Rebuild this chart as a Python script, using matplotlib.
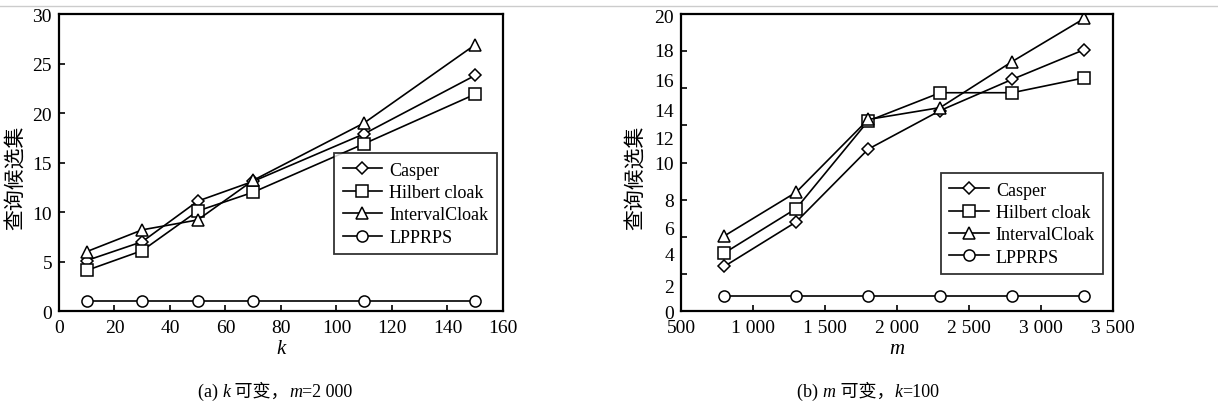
import numpy as np
import matplotlib
matplotlib.use("Agg")
import matplotlib.pyplot as plt

plt.rcParams['font.family'] = ['Liberation Serif', 'Noto Sans CJK SC']

# ---- data -----------------------------------------------------------
series = ["Casper", "Hilbert cloak", "IntervalCloak", "LPPRPS"]
markers = ["D", "s", "^", "o"]

k_vals = [10, 30, 50, 70, 110, 150]
k_casper = [5.1, 7.0, 11.1, 13.1, 17.9, 23.8]
k_hilbert = [4.1, 6.1, 10.1, 12.0, 16.9, 21.9]
k_interval = [6.0, 8.2, 9.2, 13.2, 19.0, 26.9]
k_lpprps = [1, 1, 1, 1, 1, 1]

m_vals = [800, 1300, 1800, 2300, 2800, 3300]
m_casper = [3.0, 6.0, 10.9, 13.5, 15.6, 17.6]
m_hilbert = [3.9, 6.9, 12.8, 14.7, 14.7, 15.7]
m_interval = [5.05, 8.0, 12.9, 13.7, 16.8, 19.7]
m_lpprps = [1, 1, 1, 1, 1, 1]

# the right panel's y labels sit off the tick marks in the original
m_ylabels = ["0", "2", "4", "6", "8", "10", "12", "14", "16", "18", "20"]
m_ylabel_pos = [0, 1.7, 3.9, 5.6, 7.5, 10, 11.7, 13.6, 15.6, 17.6, 19.9]
m_xlabels = ["500", "1 000", "1 500", "2 000", "2 500", "3 000", "3 500"]

# captions as (text, italic) pieces
cap_a = [("(a) ", False), ("k", True), (" 可变，", False), ("m", True), ("=2 000", False)]
cap_b = [("(b) ", False), ("m", True), (" 可变，", False), ("k", True), ("=100", False)]

fig = plt.figure(figsize=(12.18, 4.06), dpi=100)
ax1 = fig.add_axes([0.0484, 0.2315, 0.3645, 0.7315])
ax2 = fig.add_axes([0.5591, 0.2315, 0.3547, 0.7315])


def draw(ax, x, ys):
    for y, name, mk in zip(ys, series, markers):
        ms = 6.5 if mk == "D" else 8
        ax.plot(x, y, color="black", lw=1.2, marker=mk, ms=ms,
                mfc="white", mec="black", mew=1.1, label=name)
    for s in ax.spines.values():
        s.set_linewidth(1.6)
    ax.tick_params(which="both", direction="in", length=4, width=1.2,
                   labelsize=14, top=False, right=False)
    ax.tick_params(axis="x", pad=6)
    ax.tick_params(axis="y", pad=5)


def legend(ax, anchor):
    lg = ax.legend(loc="lower right", bbox_to_anchor=anchor, fontsize=13,
                   frameon=True, fancybox=False, edgecolor="black",
                   handlelength=2.2, borderaxespad=0, labelspacing=0.3,
                   handletextpad=0.4, borderpad=0.45)
    lg.get_frame().set_linewidth(1.3)


draw(ax1, k_vals, [k_casper, k_hilbert, k_interval, k_lpprps])
ax1.set_xlim(0, 160)
ax1.set_ylim(0, 30)
ax1.set_xticks(range(0, 161, 20))
ax1.set_yticks(range(0, 31, 5))
ax1.set_xlabel("k", fontsize=15, fontstyle="italic", labelpad=2)
ax1.set_ylabel("查询候选集", fontsize=15)
ax1.yaxis.set_label_coords(-0.072, 0.451)
legend(ax1, (0.986, 0.192))

draw(ax2, m_vals, [m_casper, m_hilbert, m_interval, m_lpprps])
ax2.set_xlim(500, 3500)
ax2.set_ylim(0, 20)
ax2.set_xticks(range(500, 3501, 500))
ax2.set_xticklabels(m_xlabels)
ax2.yaxis.remove_overlapping_locs = False
ax2.set_yticks(np.arange(0, 20.1, 2.5))
ax2.set_yticklabels([])
ax2.set_yticks(m_ylabel_pos, minor=True)
ax2.set_yticklabels(m_ylabels, minor=True)
ax2.tick_params(axis="y", which="minor", length=0, pad=5)
ax2.set_xlabel("m", fontsize=15, fontstyle="italic", labelpad=2)
ax2.set_ylabel("查询候选集", fontsize=15)
ax2.yaxis.set_label_coords(-0.079, 0.451)
legend(ax2, (0.977, 0.125))

# captions, piece by piece so k/m can be italic next to Chinese text
renderer = fig.canvas.get_renderer()
for pieces, cx in [(cap_a, 275), (cap_b, 868)]:
    arts = []
    x = 0
    for txt, it in pieces:
        t = fig.text(x, 1 - 397 / 406, txt, fontsize=13, va="baseline",
                     ha="left", fontstyle="italic" if it else "normal",
                     transform=None)
        x += t.get_window_extent(renderer).width
        arts.append(t)
    pos = cx - x / 2
    for t in arts:
        w = t.get_window_extent(renderer).width
        t.set_transform(fig.transFigure)
        t.set_position((pos / 1218, 1 - 397 / 406))
        pos += w

fig.add_artist(plt.Line2D([0, 1], [1 - 7 / 406] * 2, color="#cccccc", lw=1))

fig.savefig("out.png", dpi=100)
